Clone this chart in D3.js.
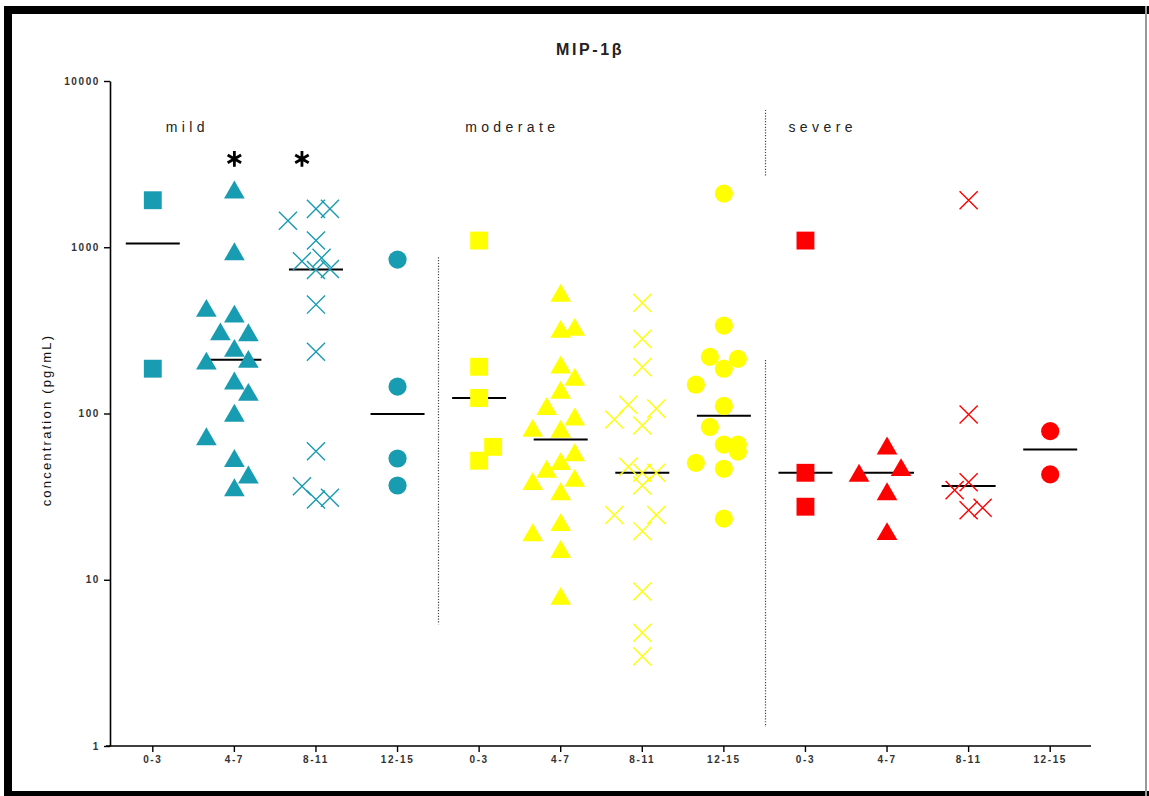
<!DOCTYPE html>
<html>
<head>
<meta charset="utf-8">
<script src="https://cdn.jsdelivr.net/npm/d3@7/dist/d3.min.js"></script>
<style>
  html, body { margin: 0; padding: 0; background: #fff; }
  svg { display: block; }
  text { font-family: "Liberation Sans", Arial, sans-serif; }
</style>
</head>
<body>
<svg id="chart" width="1149" height="796"></svg>
<script>
// Age bands (years) and severity groups
const ageBands = ["0-3", "4-7", "8-11", "12-15"];
const severities = ["mild", "moderate", "severe"];
const yTicks = [1, 10, 100, 1000, 10000];

// MIP-1β concentrations (pg/mL); lanes give each point's side-by-side slot within its column
const mild03 = [1918, 186];
const mild03Lanes = [0, 0];
const mild47 = [2223, 946, 432, 399, 312, 308, 248, 208, 213, 158, 135, 101, 73, 54, 43, 36];
const mild47Lanes = [0, 0, -2, 0, -1, 1, 0, -2, 1, 0, 1, 0, -2, 0, 1, 0];
const mild811 = [1442, 1702, 1702, 1097, 824, 863, 730, 740, 452, 235, 59.3, 36.5, 30.4, 31.1];
const mild811Lanes = [-2, 0, 1, 0, -1, 0.4, 0, 1, 0, 0, 0, -1, 0, 1];
const mild1215 = [843, 145, 53.6, 36.9];
const mild1215Lanes = [0, 0, 0, 0];

const moderate03 = [1097, 191, 124, 63, 52];
const moderate03Lanes = [0, 0, 0, 1, 0];
const moderate47 = [532, 323, 332, 197, 166, 139, 111, 96, 82, 81, 58.5, 51.7, 46.5, 41, 39.2, 34.1, 22.2, 19.3, 15.3, 8.0];
const moderate47Lanes = [0, 0, 1, 0, 1, 0, -1, 1, -2, 0, 1, 0, -1, 1, -2, 0, 0, -2, 0, 0];
const moderate811 = [463, 281, 190, 113, 107, 92, 84.7, 47.8, 44, 44, 36.9, 24.5, 24.5, 19.6, 8.5, 4.8, 3.46];
const moderate811Lanes = [0, 0, 0, -1, 1, -2, 0, -1, 0, 1, 0, -2, 1, 0, 0, 0, 0];
const moderate1215 = [2103, 338, 219, 213, 186, 149, 111, 83, 65, 65, 59, 50.5, 46.5, 23.3];
const moderate1215Lanes = [0, 0, -1, 1, 0, -2, 0, -1, 0, 1, 1, -2, 0, 0];

const severe03 = [1097, 44, 27.5];
const severe03Lanes = [0, 0, 0];
const severe47 = [64.2, 44, 47.6, 34.1, 19.6];
const severe47Lanes = [0, -2, 1, 0, 0];
const severe811 = [1917, 98.6, 38.6, 34.6, 26.2, 27.1];
const severe811Lanes = [0, 0, 0, -1, 0, 1];
const severe1215 = [78.3, 43];
const severe1215Lanes = [0, 0];

// Significance markers: column index, lane, height (pg/mL)
const starColumns = [1, 2];
const starLanes = [0, -1];
const starLevel = 3400;

// Dotted group separators: [top, bottom] value extents of each segment
const separator1 = [[870, 5.4]];
const separator2 = [[6700, 2650], [210, 1.3]];

const groupColors = { mild: "#189cb2", moderate: "#ffff00", severe: "#ff0000" };
const ageShapes = [d3.symbolSquare, d3.symbolTriangle, d3.symbolTimes, d3.symbolCircle];
const shapeSizes = [320, 185, 215, 260];

// d3's triangle is centred on its centroid; shift it so its bounding box is centred on the value
const triHalf = Math.sqrt(shapeSizes[1] / (Math.sqrt(3) * 3));
const shapeDy = [0, triHalf / 2, 0, 0];

const columns = [
  { sev: "mild", age: 0, values: mild03, lanes: mild03Lanes },
  { sev: "mild", age: 1, values: mild47, lanes: mild47Lanes },
  { sev: "mild", age: 2, values: mild811, lanes: mild811Lanes },
  { sev: "mild", age: 3, values: mild1215, lanes: mild1215Lanes },
  { sev: "moderate", age: 0, values: moderate03, lanes: moderate03Lanes },
  { sev: "moderate", age: 1, values: moderate47, lanes: moderate47Lanes },
  { sev: "moderate", age: 2, values: moderate811, lanes: moderate811Lanes },
  { sev: "moderate", age: 3, values: moderate1215, lanes: moderate1215Lanes },
  { sev: "severe", age: 0, values: severe03, lanes: severe03Lanes },
  { sev: "severe", age: 1, values: severe47, lanes: severe47Lanes },
  { sev: "severe", age: 2, values: severe811, lanes: severe811Lanes },
  { sev: "severe", age: 3, values: severe1215, lanes: severe1215Lanes }
];

const svg = d3.select("#chart");

// Frame around the figure
svg.append("rect").attr("x", 4).attr("y", 6).attr("width", 8).attr("height", 790).attr("fill", "#000");
svg.append("rect").attr("x", 4).attr("y", 6).attr("width", 1145).attr("height", 8).attr("fill", "#000");
svg.append("rect").attr("x", 4).attr("y", 791).attr("width", 1145).attr("height", 5).attr("fill", "#000");
svg.append("rect").attr("x", 1145).attr("y", 6).attr("width", 2).attr("height", 790).attr("fill", "#999");

// Scales
const x = d3.scaleBand().domain(d3.range(columns.length)).range([112, 1091]).padding(0);
const cx = i => x(i) + x.bandwidth() / 2;
const laneStep = 14;
const y = d3.scaleLog().domain([1, 10000]).range([746, 81]);

// Title
svg.append("text")
  .attr("x", 590).attr("y", 55)
  .attr("text-anchor", "middle")
  .attr("font-size", 16).attr("font-weight", "bold")
  .attr("letter-spacing", 2.6)
  .attr("fill", "#222")
  .text("MIP-1β");

// Y axis
const yAxis = svg.append("g")
  .attr("transform", "translate(110,0)")
  .call(d3.axisLeft(y).tickValues(yTicks).tickFormat(d3.format("d")).tickSize(6).tickSizeOuter(0));
yAxis.select(".domain").attr("stroke", "#000").attr("stroke-width", 1.6);
yAxis.selectAll(".tick line").attr("stroke", "#000").attr("stroke-width", 1.4);
yAxis.selectAll(".tick text")
  .attr("x", -10)
  .attr("font-size", 10).attr("font-weight", "bold")
  .attr("letter-spacing", 1.6)
  .attr("fill", "#333");

svg.append("text")
  .attr("transform", "translate(51,420) rotate(-90)")
  .attr("text-anchor", "middle")
  .attr("font-size", 13)
  .attr("letter-spacing", 2.2)
  .attr("fill", "#111")
  .text("concentration (pg/mL)");

// X axis
const xAxis = svg.append("g")
  .attr("transform", "translate(0,746)")
  .call(d3.axisBottom(x).tickFormat(i => ageBands[columns[i].age]).tickSize(6).tickSizeOuter(0));
xAxis.select(".domain").remove();
xAxis.selectAll(".tick line").attr("stroke", "#000").attr("stroke-width", 1.4);
xAxis.selectAll(".tick text")
  .attr("y", 10)
  .attr("font-size", 10).attr("font-weight", "bold")
  .attr("letter-spacing", 1.6)
  .attr("fill", "#333");
svg.append("line")
  .attr("x1", 106).attr("x2", 1091).attr("y1", 746).attr("y2", 746)
  .attr("stroke", "#000").attr("stroke-width", 1.6);

// Group separators
function separator(afterCol, segments) {
  const sx = Math.round((cx(afterCol) + cx(afterCol + 1)) / 2) + 0.5;
  segments.forEach(([top, bottom]) => {
    svg.append("line")
      .attr("x1", sx).attr("x2", sx)
      .attr("y1", y(top)).attr("y2", y(bottom))
      .attr("stroke", "#444").attr("stroke-width", 1.2)
      .attr("stroke-dasharray", "1.2,1.6");
  });
}
separator(3, separator1);
separator(7, separator2);

// Group labels
const labelX = [cx(0) + 13, cx(4) - 14, cx(8) - 17];
severities.forEach((s, i) => {
  svg.append("text")
    .attr("x", labelX[i]).attr("y", 132)
    .attr("font-size", 14)
    .attr("letter-spacing", 4.4)
    .attr("fill", "#222")
    .text(s);
});

// Median lines (drawn beneath the points)
columns.forEach((c, i) => {
  const m = d3.median(c.values);
  svg.append("line")
    .attr("x1", cx(i) - 27).attr("x2", cx(i) + 27)
    .attr("y1", y(m)).attr("y2", y(m))
    .attr("stroke", "#000").attr("stroke-width", 2);
});

// Points
columns.forEach((c, i) => {
  const color = groupColors[c.sev];
  const isCross = c.age === 2;
  const sym = d3.symbol().type(ageShapes[c.age]).size(shapeSizes[c.age]);
  const dy = shapeDy[c.age];
  svg.append("g").selectAll("path")
    .data(c.values.map((v, k) => ({ v, lane: c.lanes[k] })))
    .join("path")
    .attr("d", sym)
    .attr("transform", d => `translate(${cx(i) + d.lane * laneStep},${y(d.v) + dy})`)
    .attr("fill", isCross ? "none" : color)
    .attr("stroke", color)
    .attr("stroke-width", isCross ? 1.4 : 0);
});

// Significance asterisks
const star = d3.symbol().type(d3.symbolAsterisk).size(170);
starColumns.forEach((col, k) => {
  svg.append("path")
    .attr("d", star)
    .attr("transform", `translate(${cx(col) + starLanes[k] * laneStep},${y(starLevel)})`)
    .attr("fill", "none")
    .attr("stroke", "#000")
    .attr("stroke-width", 2.8);
});
</script>
</body>
</html>
